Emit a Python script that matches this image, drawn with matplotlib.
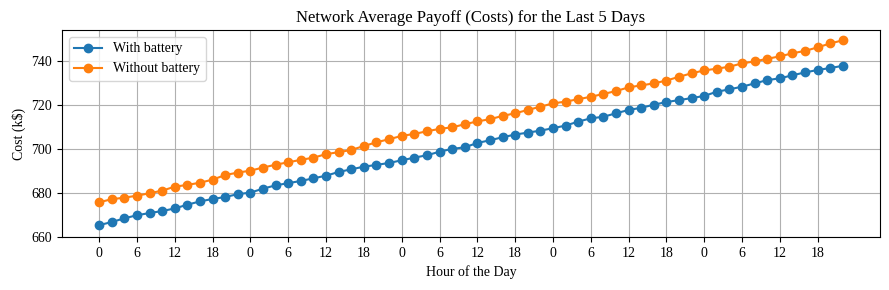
import matplotlib
matplotlib.use('Agg')
import matplotlib.pyplot as plt

plt.rcParams['font.family'] = ['Liberation Serif', 'DejaVu Serif']

# 5 days, one sample every 2 hours
hours = list(range(0, 120, 2))

with_battery = [
    665.2, 666.6, 668.3, 669.7, 670.7, 671.6, 672.8, 674.5, 676.0, 677.1,
    678.0, 679.3, 680.0, 681.8, 683.3, 684.3, 685.3, 686.5, 687.7, 689.4,
    690.6, 691.8, 692.6, 693.5, 694.7, 695.9, 697.0, 698.6, 699.9, 700.6,
    702.6, 703.8, 705.2, 706.4, 707.3, 708.2, 709.3, 710.5, 712.3, 713.8,
    714.5, 716.1, 717.6, 718.6, 720.0, 721.2, 722.1, 723.0, 724.0, 725.9,
    727.0, 728.2, 729.7, 731.2, 732.0, 733.4, 734.7, 735.8, 736.7, 737.7,
]

without_battery = [
    675.6, 677.0, 677.7, 678.6, 679.7, 680.9, 682.7, 683.5, 684.5, 685.9,
    688.0, 689.1, 690.0, 691.4, 692.7, 693.8, 694.9, 695.9, 697.5, 698.4,
    699.4, 701.2, 702.9, 704.3, 705.8, 706.7, 707.9, 709.0, 709.7, 711.1,
    712.4, 713.4, 714.9, 716.1, 717.6, 719.1, 720.6, 721.4, 722.5, 723.6,
    724.9, 726.2, 727.9, 728.8, 729.7, 731.0, 732.7, 734.3, 735.6, 736.4,
    737.3, 738.8, 739.7, 740.9, 742.0, 743.4, 744.5, 746.1, 747.9, 749.3,
]

tick_pos = list(range(0, 120, 6))
tick_labels = [str(h % 24) for h in tick_pos]

fig = plt.figure(figsize=(8.89, 2.9), dpi=100)
ax = fig.add_axes([0.0697, 0.1828, 0.9203, 0.7138])

ax.plot(hours, with_battery, marker='o', label='With battery')
ax.plot(hours, without_battery, marker='o', label='Without battery')

ax.set_xticks(tick_pos)
ax.set_xticklabels(tick_labels)
ax.set_ylim(659.8, 754)
ax.set_title('Network Average Payoff (Costs) for the Last 5 Days')
ax.set_xlabel('Hour of the Day')
ax.set_ylabel('Cost (k$)')
ax.legend(loc='upper left')
ax.grid(True)

fig.savefig('out.png', dpi=100)
